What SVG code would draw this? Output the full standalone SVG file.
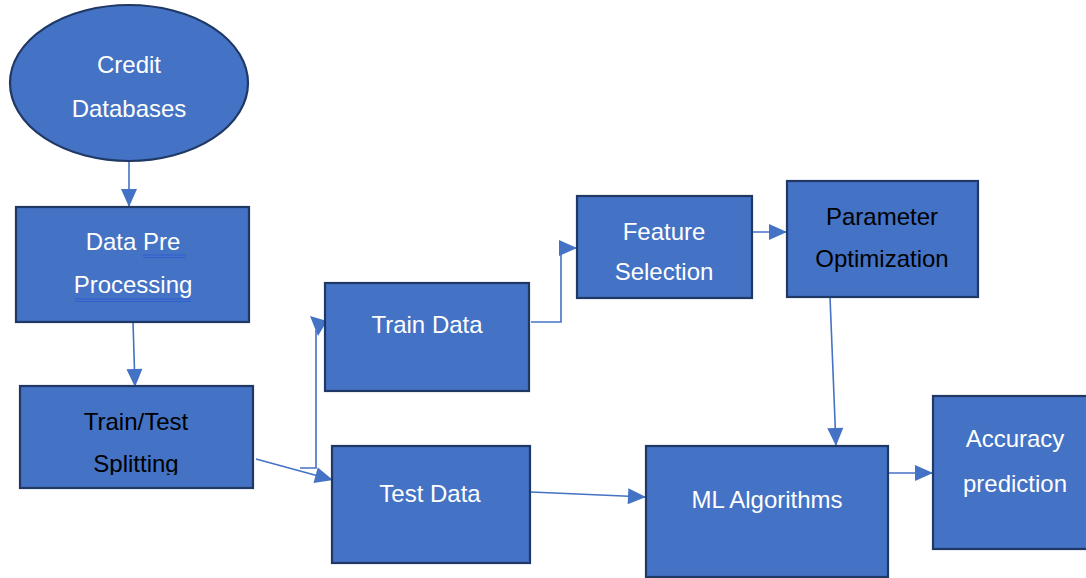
<svg xmlns="http://www.w3.org/2000/svg" width="1086" height="578" viewBox="0 0 1086 578">
<style>
.box{fill:#4472C4;stroke:#1F3864;stroke-width:2.2}
.t{font-family:"Liberation Sans",Arial,sans-serif;font-size:24px;fill:#ffffff;text-anchor:middle}
.k{fill:#000000}
.c{fill:none;stroke:#4472C4;stroke-width:1.6}
.ul{stroke:#2F5FD0;stroke-width:1.2}
</style>
<defs>
<marker id="ah" markerUnits="userSpaceOnUse" markerWidth="20" markerHeight="18" viewBox="0 0 20 18" refX="19" refY="9" orient="auto">
<path d="M1,1 L19,9 L1,17 Z" fill="#4472C4"/>
</marker>
<clipPath id="clipSplit"><rect x="20" y="386" width="233" height="89"/></clipPath>
</defs>
<rect width="1086" height="578" fill="#ffffff"/>
<g id="connectors">
<path class="c" d="M129,161 L129,207" marker-end="url(#ah)"/>
<path class="c" d="M133,322 L135,387" marker-end="url(#ah)"/>
<path class="c" d="M256,459 L333,480" marker-end="url(#ah)"/>
<path class="c" d="M300,468 L316,468 L316,330"/>
<path d="M310,316 L327,321 L318,336 Z" fill="#4472C4"/>
<path class="c" d="M531,322 L561,322 L561,248 L577,248" marker-end="url(#ah)"/>
<path class="c" d="M752,232 L787,232" marker-end="url(#ah)"/>
<path class="c" d="M830,297 L836,446" marker-end="url(#ah)"/>
<path class="c" d="M531,492 L646,497" marker-end="url(#ah)"/>
<path class="c" d="M888,473 L933,473" marker-end="url(#ah)"/>
</g>
<g id="credit-databases">
<ellipse class="box" cx="129" cy="83" rx="119" ry="78"/>
<text class="t" x="129" y="73">Credit</text>
<text class="t" x="129" y="117">Databases</text>
</g>
<g id="data-pre-processing">
<rect class="box" x="16" y="207" width="233" height="115"/>
<text class="t" x="133" y="250">Data Pre</text>
<text class="t" x="133" y="293">Processing</text>
<line class="ul" x1="143" y1="255" x2="186" y2="255"/>
<line class="ul" x1="143" y1="257.5" x2="186" y2="257.5"/>
<line class="ul" x1="75" y1="299" x2="191" y2="299"/>
<line class="ul" x1="75" y1="301.5" x2="191" y2="301.5"/>
</g>
<g id="train-test-splitting">
<rect class="box" x="20" y="386" width="233" height="102"/>
<text class="t k" x="136" y="430">Train/Test</text>
<text class="t k" x="136" y="472" clip-path="url(#clipSplit)">Splitting</text>
</g>
<g id="train-data">
<rect class="box" x="325" y="283" width="204" height="108"/>
<text class="t" x="427" y="333">Train Data</text>
</g>
<g id="test-data">
<rect class="box" x="332" y="446" width="198" height="117"/>
<text class="t" x="430" y="502">Test Data</text>
</g>
<g id="feature-selection">
<rect class="box" x="577" y="196" width="175" height="102"/>
<text class="t" x="664" y="240">Feature</text>
<text class="t" x="664" y="280">Selection</text>
</g>
<g id="parameter-optimization">
<rect class="box" x="787" y="181" width="191" height="116"/>
<text class="t k" x="882" y="225">Parameter</text>
<text class="t k" x="882" y="267">Optimization</text>
</g>
<g id="ml-algorithms">
<rect class="box" x="646" y="446" width="242" height="131"/>
<text class="t" x="767" y="508">ML Algorithms</text>
</g>
<g id="accuracy-prediction">
<rect class="box" x="933" y="396" width="170" height="153"/>
<text class="t" x="1015" y="447">Accuracy</text>
<text class="t" x="1015" y="492">prediction</text>
</g>
</svg>
